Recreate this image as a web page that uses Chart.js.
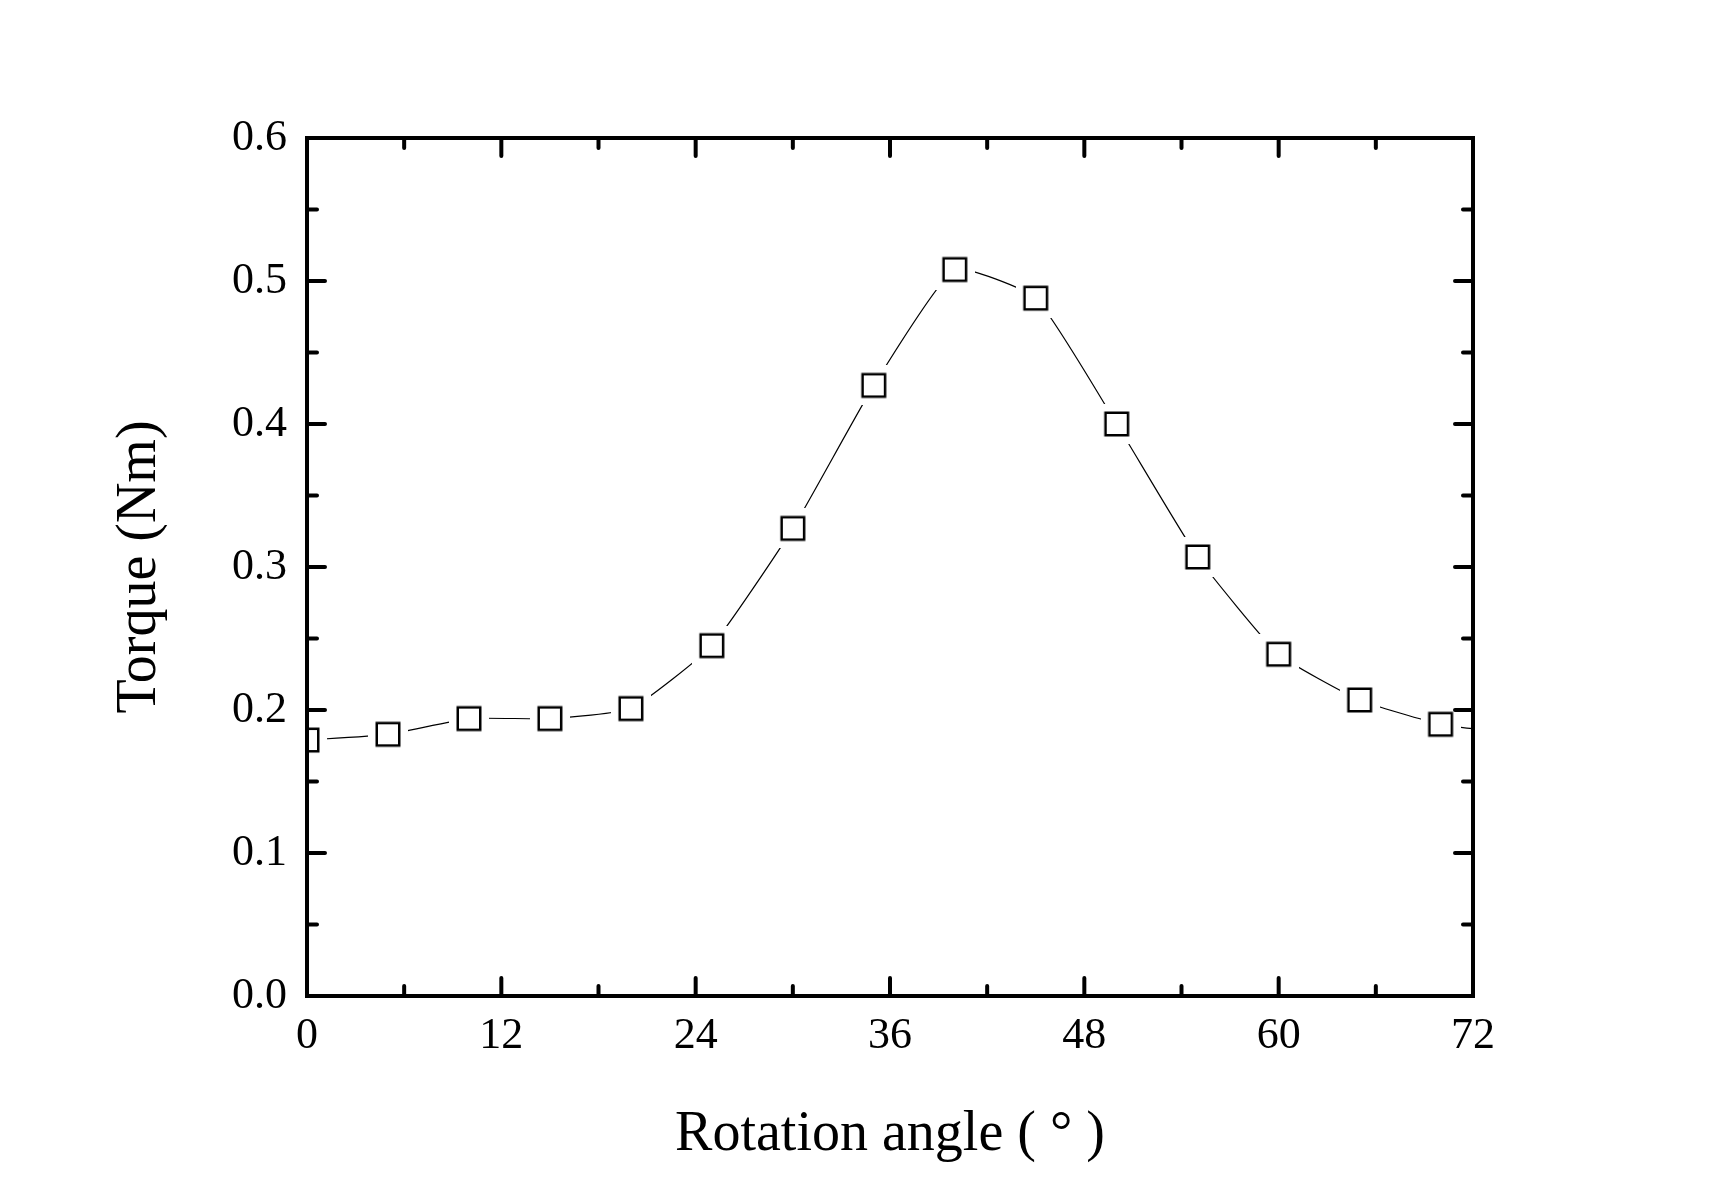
<!DOCTYPE html>
<html>
<head>
<meta charset="utf-8">
<script src="https://cdn.jsdelivr.net/npm/chart.js@4.4.1/dist/chart.umd.min.js"></script>
<style>
  html, body { margin: 0; padding: 0; background: #fff; }
  #wrap { width: 1710px; height: 1194px; }
</style>
</head>
<body>
<div id="wrap"><canvas id="torqueChart"></canvas></div>
<script>
// data (the last point sits past the axis end and is clipped)
var angles = [0, 5, 10, 15, 20, 25, 30, 35, 40, 45, 50, 55, 60, 65, 70, 75];
var torque = [0.179, 0.183, 0.194, 0.194, 0.201, 0.245, 0.327, 0.427, 0.508, 0.488, 0.400, 0.307, 0.239, 0.207, 0.190, 0.183];
var xRange = [0, 72];
var yRange = [0, 0.6];
var xStep = 12;
var yStep = 0.1;

// open square with a white margin, so the line stops short of it
var marker = document.createElement('canvas');
marker.width = 40;
marker.height = 40;
var m = marker.getContext('2d');
m.fillStyle = '#fff';
m.fillRect(0, 0, 40, 40);
m.strokeStyle = '#000';
m.lineWidth = 2.5;
m.strokeRect(8.75, 8.75, 22.5, 22.5);

var points = angles.map(function (a, i) { return { x: a, y: torque[i] }; });

// frame plus inward ticks on all four sides
var framePlugin = {
    id: 'frame',
    afterDatasetsDraw: function (chart) {
        var c = chart.ctx, a = chart.chartArea;
        var sx = chart.scales.x, sy = chart.scales.y;
        c.save();
        c.strokeStyle = '#000';
        c.lineCap = 'round';
        c.lineWidth = 4;
        c.strokeRect(a.left, a.top, a.right - a.left, a.bottom - a.top);

        function marks(scale, horizontal) {
            var vals = scale.ticks.map(function (t) { return t.value; });
            for (var i = 0; i < vals.length; i++) {
                var list = [[vals[i], 18]];
                if (i < vals.length - 1) list.push([(vals[i] + vals[i + 1]) / 2, 10]);
                list.forEach(function (v) {
                    var p = scale.getPixelForValue(v[0]);
                    c.beginPath();
                    if (horizontal) {
                        c.moveTo(p, a.bottom); c.lineTo(p, a.bottom - v[1]);
                        c.moveTo(p, a.top); c.lineTo(p, a.top + v[1]);
                    } else {
                        c.moveTo(a.left, p); c.lineTo(a.left + v[1], p);
                        c.moveTo(a.right, p); c.lineTo(a.right - v[1], p);
                    }
                    c.stroke();
                });
            }
        }
        marks(sx, true);
        marks(sy, false);
        c.restore();
    }
};

var ctx = document.getElementById('torqueChart');
var torqueChart = new Chart(ctx, {
    type: 'line',
    data: {
        datasets: [{
            data: points,
            borderColor: '#000',
            borderWidth: 1.2,
            tension: 0.15,
            pointStyle: marker,
            pointRadius: 12,
            clip: 0,
            fill: false
        }]
    },
    options: {
        responsive: true,
        maintainAspectRatio: false,
        animation: false,
        layout: { padding: { top: 138, right: 237, left: 0, bottom: 0 } },
        plugins: {
            legend: { display: false },
            tooltip: { enabled: false }
        },
        scales: {
            x: {
                type: 'linear',
                min: xRange[0],
                max: xRange[1],
                grid: { display: false, drawTicks: false },
                border: { display: false },
                ticks: {
                    stepSize: xStep,
                    color: '#000',
                    padding: 14,
                    font: { family: 'Liberation Serif', size: 44 }
                },
                title: {
                    display: true,
                    text: 'Rotation angle ( ° )',
                    color: '#000',
                    font: { family: 'Liberation Serif', size: 56 },
                    padding: { top: 0, bottom: 25 }
                },
                afterFit: function (s) { s.height = 198; }
            },
            y: {
                min: yRange[0],
                max: yRange[1],
                grid: { display: false, drawTicks: false },
                border: { display: false },
                ticks: {
                    stepSize: yStep,
                    color: '#000',
                    padding: 20,
                    font: { family: 'Liberation Serif', size: 44 },
                    callback: function (v) { return v.toFixed(1); }
                },
                title: {
                    display: true,
                    text: 'Torque (Nm)',
                    color: '#000',
                    font: { family: 'Liberation Serif', size: 56 },
                    padding: { top: 107, bottom: 0 }
                },
                afterFit: function (s) { s.width = 307; }
            }
        }
    },
    plugins: [framePlugin]
});
</script>
</body>
</html>
